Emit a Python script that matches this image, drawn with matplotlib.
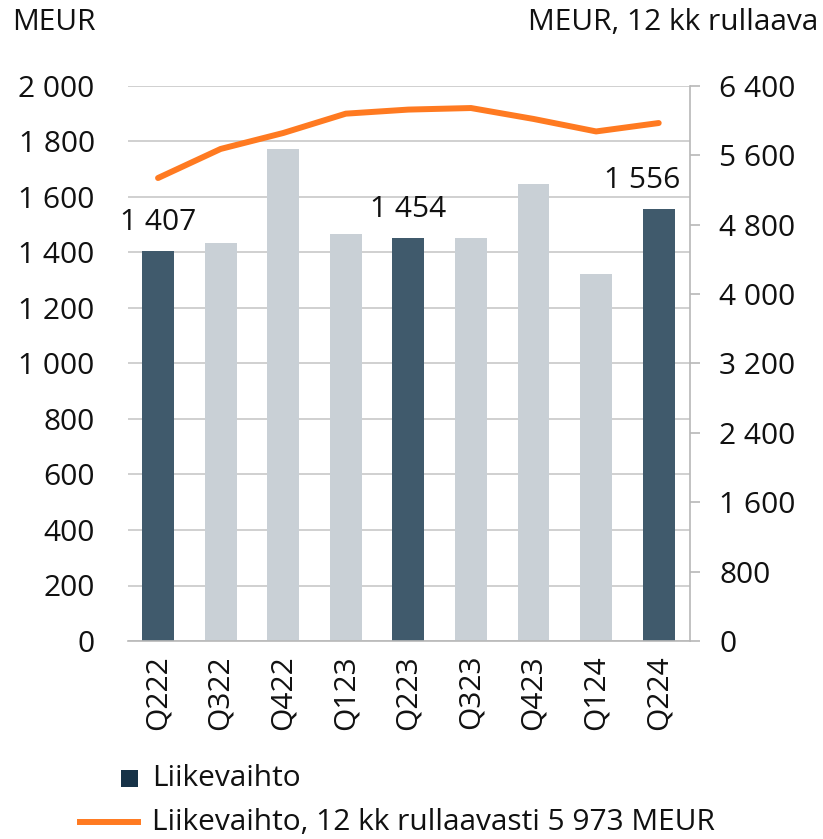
import matplotlib
matplotlib.use("Agg")
import matplotlib.pyplot as plt
from matplotlib.lines import Line2D
from matplotlib.patches import Rectangle
from matplotlib.ticker import FuncFormatter

plt.rcParams['font.family'] = ['Open Sans', 'DejaVu Sans']

quarters = ["Q222", "Q322", "Q422", "Q123", "Q223", "Q323", "Q423", "Q124", "Q224"]
revenue = [1407, 1434, 1773, 1467, 1454, 1452, 1647, 1323, 1556]
rolling = [5339, 5674, 5858, 6081, 6128, 6146, 6020, 5876, 5973]
highlight = [True, False, False, False, True, False, False, False, True]
left_ticks = [0, 200, 400, 600, 800, 1000, 1200, 1400, 1600, 1800, 2000]
right_ticks = [0, 800, 1600, 2400, 3200, 4000, 4800, 5600, 6400]
legend_labels = ["Liikevaihto", "Liikevaihto, 12 kk rullaavasti 5 973 MEUR"]

dark = "#405a6c"
light = "#c9d0d6"
orange = "#ff7a21"
grid = "#c8c8c8"
txt = "#111111"
fs = 21.5
W, H = 823, 839

def fmt(v, pos=None):
    return f"{int(v):,}".replace(",", " ")

fig = plt.figure(figsize=(W/100, H/100), dpi=100)
ax = fig.add_axes([128/W, 1-641/H, (690-128)/W, (641-86)/H])
x = list(range(len(quarters)))
colors = [dark if h else light for h in highlight]
ax.bar(x, revenue, width=0.51, color=colors, zorder=2)
n = len(revenue)
for i, (v, h) in enumerate(zip(revenue, highlight)):
    if h:
        dx = -12 if i == n - 1 else 0
        ax.annotate(fmt(v), (i, v), xytext=(dx, 10), textcoords="offset points",
                    ha="center", va="bottom", fontsize=fs, color=txt)

ax.set_xlim(-0.48, 8.5)
ax.set_ylim(0, 2000)
ax.set_yticks(left_ticks)
ax.yaxis.set_major_formatter(FuncFormatter(fmt))
ax.grid(axis="y", color=grid, linewidth=1.2, zorder=0)
ax.set_axisbelow(True)
for s in ["left", "top", "right"]:
    ax.spines[s].set_visible(False)
ax.spines["bottom"].set_color("#b8b8b8")
ax.spines["bottom"].set_linewidth(1.2)
ax.tick_params(axis="y", length=0, pad=24, labelsize=fs, labelcolor=txt)
ax.set_xticks(x)
ax.set_xticklabels(quarters, rotation=90, fontsize=fs, color=txt)
ax.tick_params(axis="x", length=0, pad=10)

ax2 = ax.twinx()
ax2.plot(x, rolling, color=orange, linewidth=4.3, solid_capstyle="round", zorder=3)
ax2.set_ylim(0, 6400)
ax2.set_yticks(right_ticks)
ax2.yaxis.set_major_formatter(FuncFormatter(fmt))
for s in ["left", "top", "bottom"]:
    ax2.spines[s].set_visible(False)
ax2.spines["right"].set_color("#b8b8b8")
ax2.spines["right"].set_linewidth(1.2)
ax2.tick_params(axis="y", length=7, width=1.2, color="#b8b8b8", pad=14, labelsize=fs, labelcolor=txt)

fig.text(12/W, 1-22/H, "MEUR", fontsize=fs, ha="left", va="center", color=txt)
fig.text(818/W, 1-22/H, "MEUR, 12 kk rullaava", fontsize=fs, ha="right", va="center", color=txt)

# legend drawn in figure pixel coordinates
fig.patches.append(Rectangle((121/W, 1-787/H), 17/W, 17/H, transform=fig.transFigure,
                             facecolor="#163247", edgecolor="none"))
fig.lines.append(Line2D([80/W, 138/W], [1-822/H, 1-822/H], transform=fig.transFigure,
                        color=orange, linewidth=4.3))
fig.text(152/W, 1-778/H, legend_labels[0], fontsize=fs, ha="left", va="center", color=txt)
fig.text(152/W, 1-822/H, legend_labels[1], fontsize=fs, ha="left", va="center", color=txt)

fig.savefig("out.png", dpi=100)
